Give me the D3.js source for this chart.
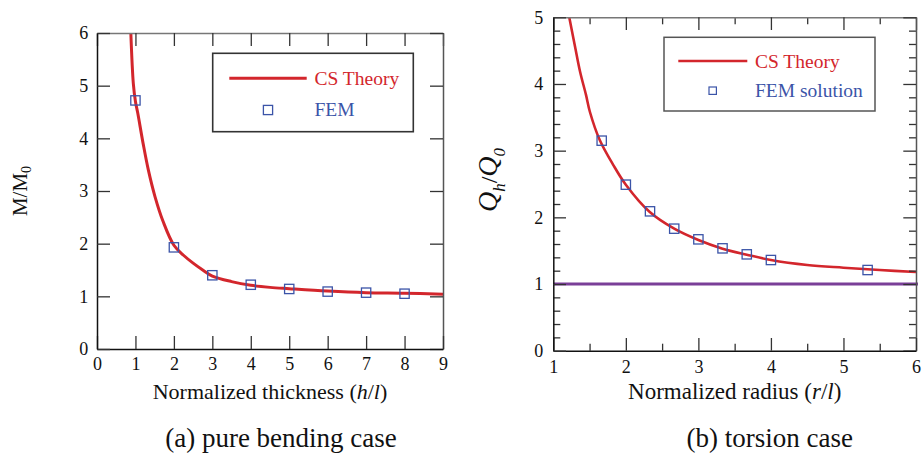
<!DOCTYPE html>
<html>
<head>
<meta charset="utf-8">
<script src="https://cdn.jsdelivr.net/npm/d3@7"></script>
<style>
  body { margin: 0; background: #fff; }
  svg, svg text, svg tspan { font-family: "Liberation Serif", "Times New Roman", Times, serif; }
</style>
</head>
<body>
<svg id="fig" width="924" height="454"></svg>
<script>
// ---------- (a) pure bending case ----------
const bendTheoryX = [0.88, 0.945, 1.0, 1.06, 1.2, 1.335, 1.51, 1.72, 2.0, 2.25, 2.5, 2.75, 3.0, 3.5, 4.0, 4.5, 5.0, 6.0, 7.0, 8.0, 9.0];
const bendTheoryY = [6.0, 5.04, 4.7, 4.48, 3.9, 3.4, 2.89, 2.42, 1.97, 1.78, 1.63, 1.5, 1.385, 1.28, 1.21, 1.17, 1.145, 1.10, 1.07, 1.06, 1.04];
const bendFemX = [1, 2, 3, 4, 5, 6, 7, 8];
const bendFemY = [4.72, 1.93, 1.40, 1.22, 1.14, 1.09, 1.07, 1.05];
const bendXTicks = [0, 1, 2, 3, 4, 5, 6, 7, 8, 9];
const bendYTicks = [0, 1, 2, 3, 4, 5, 6];

// ---------- (b) torsion case ----------
const torTheoryX = [1.22, 1.3, 1.37, 1.45, 1.505, 1.64, 1.83, 2.0, 2.33, 2.667, 3.0, 3.333, 3.667, 4.0, 4.5, 5.0, 5.5, 6.0];
const torTheoryY = [5.0, 4.56, 4.18, 3.84, 3.58, 3.16, 2.78, 2.49, 2.08, 1.83, 1.66, 1.53, 1.44, 1.36, 1.285, 1.245, 1.21, 1.18];
const torFemX = [1.667, 2.0, 2.333, 2.667, 3.0, 3.333, 3.667, 4.0, 5.333];
const torFemY = [3.15, 2.49, 2.09, 1.83, 1.67, 1.535, 1.445, 1.36, 1.21];
const torClassical = [1];
const torXTicks = [1, 2, 3, 4, 5, 6];
const torXMinor = [1.5, 2.5, 3.5, 4.5, 5.5];
const torYTicks = [0, 1, 2, 3, 4, 5];
const torYMinor = [0.2, 0.4, 0.6, 0.8, 1.2, 1.4, 1.6, 1.8, 2.2, 2.4, 2.6, 2.8, 3.2, 3.4, 3.6, 3.8, 4.2, 4.4, 4.6, 4.8];

const RED = "#d3262c";
const BLUE = "#3b54a8";
const PURPLE = "#7a3f98";
const SERIF = '"Liberation Serif", "Times New Roman", Times, serif';
const TICK_FONT = 18;

const svg = d3.select("#fig").attr("font-family", SERIF);

// Boxed axes with inward ticks on all four sides
function frame(g, x, y, cfg) {
  const [x0, x1] = x.range();
  const [yb, yt] = y.range();
  const fmt = d3.format("d");

  function style(sel, domainColor, withText) {
    sel.attr("font-family", SERIF).attr("font-size", TICK_FONT);
    sel.select(".domain").attr("stroke", domainColor).attr("stroke-width", 1.5);
    sel.selectAll(".tick line").attr("stroke", "#333").attr("stroke-width", 1.3);
    if (withText) {
      sel.selectAll(".tick text").attr("fill", "#111")
        .attr("font-family", SERIF).attr("font-size", TICK_FONT);
    }
  }

  // minor ticks first, below the frame
  if (cfg.xMinor) {
    [[yb, d3.axisBottom], [yt, d3.axisTop]].forEach(([yy, ax]) => {
      const m = g.append("g").attr("transform", `translate(0,${yy})`)
        .call(ax(x).tickValues(cfg.xMinor).tickSize(-cfg.minor).tickSizeOuter(0).tickFormat(""));
      m.select(".domain").remove();
      m.selectAll(".tick line").attr("stroke", "#333").attr("stroke-width", 1.3);
    });
  }
  if (cfg.yMinor) {
    [[x0, d3.axisLeft], [x1, d3.axisRight]].forEach(([xx, ax]) => {
      const m = g.append("g").attr("transform", `translate(${xx},0)`)
        .call(ax(y).tickValues(cfg.yMinor).tickSize(-cfg.minor).tickSizeOuter(0).tickFormat(""));
      m.select(".domain").remove();
      m.selectAll(".tick line").attr("stroke", "#333").attr("stroke-width", 1.3);
    });
  }

  const top = g.append("g").attr("transform", `translate(0,${yt})`)
    .call(d3.axisTop(x).tickValues(cfg.xTicks).tickSize(-cfg.major).tickSizeOuter(0).tickFormat(""));
  style(top, "#777", false);
  const right = g.append("g").attr("transform", `translate(${x1},0)`)
    .call(d3.axisRight(y).tickValues(cfg.yTicks).tickSize(-cfg.major).tickSizeOuter(0).tickFormat(""));
  style(right, "#555", false);
  const bottom = g.append("g").attr("transform", `translate(0,${yb})`)
    .call(d3.axisBottom(x).tickValues(cfg.xTicks).tickSize(-cfg.major).tickSizeOuter(0)
      .tickPadding(cfg.xPad).tickFormat(fmt));
  style(bottom, "#111", true);
  const left = g.append("g").attr("transform", `translate(${x0},0)`)
    .call(d3.axisLeft(y).tickValues(cfg.yTicks).tickSize(-cfg.major).tickSizeOuter(0)
      .tickPadding(cfg.yPad).tickFormat(fmt));
  style(left, "#111", true);
}

function squares(g, xs, ys, x, y, size) {
  g.append("g").selectAll("rect")
    .data(xs.map((d, i) => [d, ys[i]]))
    .join("rect")
    .attr("x", d => x(d[0]) - size / 2)
    .attr("y", d => y(d[1]) - size / 2)
    .attr("width", size).attr("height", size)
    .attr("fill", "none").attr("stroke", BLUE).attr("stroke-width", 1.3);
}

function serifText(sel, size) {
  return sel.attr("font-family", SERIF).attr("font-size", size);
}

// ===== Panel (a) =====
{
  const x = d3.scaleLinear().domain([0, 9]).range([97, 443]);
  const y = d3.scaleLinear().domain([0, 6]).range([349, 33]);
  const g = svg.append("g");

  g.append("clipPath").attr("id", "clipA").append("rect")
    .attr("x", 97).attr("y", 33).attr("width", 346).attr("height", 316);

  const line = d3.line().x(d => x(d[0])).y(d => y(d[1])).curve(d3.curveCatmullRom.alpha(0.5));
  g.append("path")
    .datum(bendTheoryX.map((d, i) => [d, bendTheoryY[i]]))
    .attr("d", line).attr("fill", "none").attr("stroke", RED).attr("stroke-width", 3)
    .attr("clip-path", "url(#clipA)");

  squares(g, bendFemX, bendFemY, x, y, 9.3);

  frame(g, x, y, { xTicks: bendXTicks, yTicks: bendYTicks, major: 13, xPad: 8.3, yPad: 8.7 });

  // legend
  const lg = g.append("g");
  lg.append("rect").attr("x", 212.7).attr("y", 53.3).attr("width", 200.6).attr("height", 78.4)
    .attr("fill", "#fff").attr("stroke", "#333").attr("stroke-width", 1.6);
  lg.append("line").attr("x1", 229.3).attr("x2", 306.7).attr("y1", 78.3).attr("y2", 78.3)
    .attr("stroke", RED).attr("stroke-width", 3);
  serifText(lg.append("text"), 19.5).attr("x", 314.5).attr("y", 85).attr("fill", RED).text("CS Theory");
  lg.append("rect").attr("x", 268 - 4.6).attr("y", 110 - 4.6).attr("width", 9.2).attr("height", 9.2)
    .attr("fill", "none").attr("stroke", BLUE).attr("stroke-width", 1.3);
  serifText(lg.append("text"), 19.5).attr("x", 314.5).attr("y", 115.7).attr("fill", BLUE).text("FEM");

  // axis titles
  const xt = serifText(g.append("text"), 22).attr("x", 270).attr("y", 399)
    .attr("text-anchor", "middle").attr("fill", "#111");
  xt.append("tspan").text("Normalized thickness (");
  xt.append("tspan").attr("font-style", "italic").text("h");
  xt.append("tspan").text("/");
  xt.append("tspan").attr("font-style", "italic").text("l");
  xt.append("tspan").text(")");

  const yt = serifText(g.append("text"), 21).attr("transform", "translate(27,191) rotate(-90)")
    .attr("text-anchor", "middle").attr("fill", "#111");
  yt.append("tspan").text("M/M");
  yt.append("tspan").attr("dy", 4).attr("font-size", 14).text("0");

  serifText(g.append("text"), 27).attr("x", 281).attr("y", 446.5).attr("text-anchor", "middle")
    .attr("fill", "#111").text("(a) pure bending case");
}

// ===== Panel (b) =====
{
  const x = d3.scaleLinear().domain([1, 6]).range([553.3, 916]);
  const y = d3.scaleLinear().domain([0, 5]).range([350.7, 17.3]);
  const g = svg.append("g");

  g.append("clipPath").attr("id", "clipB").append("rect")
    .attr("x", 553.3).attr("y", 17.3).attr("width", 362.7).attr("height", 333.4);

  // classical reference level
  g.append("g").selectAll("line").data(torClassical).join("line")
    .attr("x1", x.range()[0]).attr("x2", x.range()[1] + 2)
    .attr("y1", d => y(d)).attr("y2", d => y(d))
    .attr("stroke", PURPLE).attr("stroke-width", 3);

  const line = d3.line().x(d => x(d[0])).y(d => y(d[1])).curve(d3.curveCatmullRom.alpha(0.5));
  g.append("path")
    .datum(torTheoryX.map((d, i) => [d, torTheoryY[i]]))
    .attr("d", line).attr("fill", "none").attr("stroke", RED).attr("stroke-width", 2.6)
    .attr("clip-path", "url(#clipB)");

  squares(g, torFemX, torFemY, x, y, 9.3);

  frame(g, x, y, { xTicks: torXTicks, yTicks: torYTicks, xMinor: torXMinor, yMinor: torYMinor,
    major: 12.7, minor: 7, xPad: 9.5, yPad: 10 });

  // legend
  const lg = g.append("g");
  lg.append("rect").attr("x", 664).attr("y", 37.3).attr("width", 211).attr("height", 73.7)
    .attr("fill", "#fff").attr("stroke", "#555").attr("stroke-width", 1.5);
  lg.append("line").attr("x1", 678.3).attr("x2", 747.3).attr("y1", 61).attr("y2", 61)
    .attr("stroke", RED).attr("stroke-width", 2.4);
  serifText(lg.append("text"), 19.5).attr("x", 755).attr("y", 68.3).attr("fill", RED).text("CS Theory");
  lg.append("rect").attr("x", 712.7 - 3.7).attr("y", 90.7 - 3.7).attr("width", 7.4).attr("height", 7.4)
    .attr("fill", "none").attr("stroke", BLUE).attr("stroke-width", 1.2);
  serifText(lg.append("text"), 19.5).attr("x", 755).attr("y", 96.7).attr("fill", BLUE).text("FEM solution");

  // axis titles
  const xt = serifText(g.append("text"), 23).attr("x", 734.7).attr("y", 399)
    .attr("text-anchor", "middle").attr("fill", "#111");
  xt.append("tspan").text("Normalized radius (");
  xt.append("tspan").attr("font-style", "italic").text("r");
  xt.append("tspan").text("/");
  xt.append("tspan").attr("font-style", "italic").text("l");
  xt.append("tspan").text(")");

  const yt = serifText(g.append("text"), 28).attr("transform", "translate(497,180) rotate(-90)")
    .attr("text-anchor", "middle").attr("fill", "#111").attr("font-style", "italic");
  yt.append("tspan").text("Q");
  yt.append("tspan").attr("dy", 8).attr("font-size", 17).text("h");
  yt.append("tspan").attr("dy", -8).attr("font-size", 24).attr("font-style", "normal").text("/");
  yt.append("tspan").text("Q");
  yt.append("tspan").attr("dy", 8).attr("font-size", 17).text("0");

  serifText(g.append("text"), 27).attr("x", 769.7).attr("y", 446.5).attr("text-anchor", "middle")
    .attr("fill", "#111").text("(b) torsion case");
}
</script>
</body>
</html>
